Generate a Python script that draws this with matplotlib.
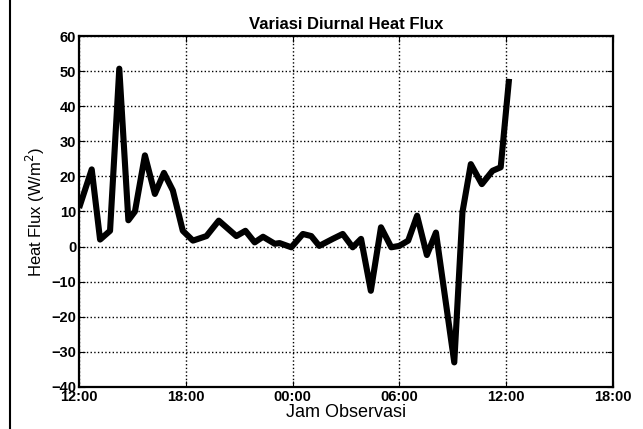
'''
Variasi diurnal heat flux, redrawn from the scanned figure
'''

import matplotlib
matplotlib.use('Agg')
import matplotlib.pyplot as plt
from matplotlib.lines import Line2D

# jam sejak 12:00 hari pertama, dan heat flux (W/m2)
jam = [0.0, 0.71, 1.18, 1.74, 2.26, 2.77, 3.14, 3.7, 4.26, 4.77, 5.27, 5.83,
       6.4, 7.16, 7.85, 8.84, 9.35, 9.87, 10.34, 11.0, 11.27, 11.93, 12.58,
       13.05, 13.5, 14.26, 14.82, 15.38, 15.85, 16.4, 16.97, 17.55, 18.0,
       18.5, 19.0, 19.55, 20.06, 21.09, 21.55, 22.02, 22.64, 23.24, 23.7,
       24.17]
flux = [11, 22, 2, 4.5, 50.7, 7.5, 10, 26, 15, 21, 16, 4.5,
        1.7, 3, 7.4, 3, 4.5, 1.2, 2.8, 0.8, 1, -0.2, 3.6,
        3, 0.2, 2.2, 3.6, -0.2, 2.2, -12.6, 5.5, -0.2, 0.2,
        1.7, 8.8, -2.4, 4, -33, 9.8, 23.5, 17.8, 21.6, 22.6,
        47.8]

xticks = [0, 6, 12, 18, 24, 30]
xlabels = ['12:00', '18:00', '00:00', '06:00', '12:00', '18:00']
yticks = list(range(-40, 61, 10))

plt.rcParams['font.family'] = ['Liberation Sans', 'DejaVu Sans']

fig = plt.figure(figsize=(6.43, 4.29), dpi=100)
ax = fig.add_axes([0.123, 0.098, 0.830, 0.818])

ax.plot(jam, flux, color='k', lw=4.4, solid_joinstyle='round',
        solid_capstyle='butt')

ax.set_xlim(0, 30)
ax.set_ylim(-40, 60)
ax.set_xticks(xticks)
ax.set_xticklabels(xlabels)
ax.set_yticks(yticks)
ax.grid(True, color='k', ls=':', lw=1.0)
ax.tick_params(direction='in', top=True, right=True, length=4,
               labelsize=10.5, pad=2)
for lab in ax.get_xticklabels() + ax.get_yticklabels():
    lab.set_fontweight('bold')
for s in ax.spines.values():
    s.set_linewidth(1.6)

ax.set_title('Variasi Diurnal Heat Flux', fontsize=12, fontweight='bold', pad=5)
ax.set_xlabel('Jam Observasi', fontsize=13, labelpad=0)
ax.set_ylabel('Heat Flux (W/m$^2$)', fontsize=12, labelpad=3)

# garis tepi halaman dari hasil scan
fig.add_artist(Line2D([10 / 643, 10 / 643], [0, 1], color='k', lw=1.5))

fig.savefig('out.png', dpi=100)
